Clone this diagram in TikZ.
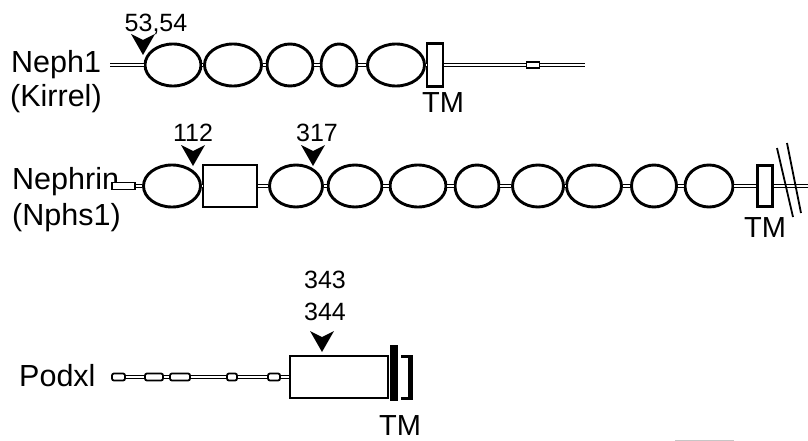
\documentclass[tikz,border=0pt]{standalone}
\usepackage{fontspec}
\setmainfont{Liberation Sans}
\usetikzlibrary{shapes.geometric}
\newcommand{\site}[1]{\fill (#1) -- ++(-12,-21) -- ++(12,6) -- ++(12,-6) -- cycle;}
\begin{document}
\begin{tikzpicture}[x=1pt,y=-1pt,
  dom/.style={draw, ellipse, line width=2.9pt, minimum height=42pt, inner sep=0pt},
  blk/.style={draw, rectangle, line width=2.5pt, inner sep=0pt},
  bead/.style={draw, rectangle, rounded corners=2pt, line width=1.8pt, fill=white, inner sep=0pt, minimum height=7pt},
  link/.style={double, line width=1.8pt, double distance=1.2pt},
  lbl/.style={font=\fontsize{30.5}{33}\selectfont, inner sep=0pt, anchor=base west},
  tm/.style={font=\fontsize{29}{32}\selectfont, inner sep=0pt, anchor=base},
  num/.style={font=\fontsize{25}{27}\selectfont, inner sep=0pt, anchor=base}]
\useasboundingbox (0,0) rectangle (808,441);
%\draw[step=50,gray,very thin] (0,0) grid (808,441);
% Neph1
\node[lbl] (neph) at (11,73) {Neph1};
\node[lbl] (kirrel) at (10,107) {(Kirrel)};
\coordinate (n0) at (110,65);
\node[dom, minimum width=56pt] (a1) at (173,65) {};
\node[dom, minimum width=57pt] (a2) at (233,65) {};
\node[dom, minimum width=46pt] (a3) at (290,65) {};
\node[dom, minimum width=36pt] (a4) at (339,65) {};
\node[dom, minimum width=57pt] (a5) at (396,65) {};
\node[blk, minimum width=16pt, minimum height=43pt] (tm1) at (435,65) {};
\node[bead, minimum width=13pt, minimum height=6pt, rounded corners=0pt] (b1) at (533,65) {};
\coordinate (n1) at (585,65);
\draw[link] (n0) -- (a1.west);
\draw[link] (a1.east) -- (a2.west);
\draw[link] (a2.east) -- (a3.west);
\draw[link] (a3.east) -- (a4.west);
\draw[link] (a4.east) -- (a5.west);
\draw[link] (a5.east) -- (tm1.west);
\draw[link] (tm1.east) -- (b1.west);
\draw[link] (b1.east) -- (n1);
\node[tm] (tma) at (443,113) {TM};
\node[num] (s1) at (156,32) {53,54};
\site{143,55}
% Nephrin
\node[lbl] (nephrin) at (12,189) {Nephrin};
\node[lbl] (nphs) at (12,225) {(Nphs1)};
\node[bead, minimum width=23pt, rounded corners=0pt] (h0) at (123.5,186) {};
\node[dom, minimum width=57pt] (e1) at (172,186) {};
\node[blk, minimum width=54pt, minimum height=42pt] (ig) at (230,186) {};
\node[dom, minimum width=53pt] (e2) at (296,186) {};
\node[dom, minimum width=54pt] (e3) at (355,186) {};
\node[dom, minimum width=56pt] (e4) at (418,186) {};
\node[dom, minimum width=44pt] (e5) at (477,186) {};
\node[dom, minimum width=51pt] (e6) at (538,186) {};
\node[dom, minimum width=55pt] (e7) at (594,186) {};
\node[dom, minimum width=45pt] (e8) at (654,186) {};
\node[dom, minimum width=48pt] (e9) at (709,186) {};
\node[blk, minimum width=15pt, minimum height=41pt] (tm2) at (765,186) {};
\coordinate (h1) at (808,186);
\draw[link] (h0.east) -- (e1.west);
\draw[link] (e1.east) -- (ig.west);
\draw[link] (ig.east) -- (e2.west);
\draw[link] (e2.east) -- (e3.west);
\draw[link] (e3.east) -- (e4.west);
\draw[link] (e4.east) -- (e5.west);
\draw[link] (e5.east) -- (e6.west);
\draw[link] (e6.east) -- (e7.west);
\draw[link] (e7.east) -- (e8.west);
\draw[link] (e8.east) -- (e9.west);
\draw[link] (e9.east) -- (tm2.west);
\draw[link] (tm2.east) -- (h1);
\draw[line width=1.8pt] (777,148) -- (793,217);
\draw[line width=1.8pt] (787,143) -- (801,213);
\node[tm] (tmb) at (765,237) {TM};
\node[num] (s2) at (193,141) {112};
\node[num] (s3) at (317,141) {317};
\site{193,166}
\site{313,166}
% Podxl
\node[lbl] (podxl) at (19,386) {Podxl};
\node[bead, minimum width=13pt] (p1) at (118.5,377) {};
\node[bead, minimum width=18pt] (p2) at (154,377) {};
\node[bead, minimum width=20pt] (p3) at (180,377) {};
\node[bead, minimum width=10pt] (p4) at (232,377) {};
\node[bead, minimum width=12pt] (p5) at (274,377) {};
\node[blk, minimum width=98pt, minimum height=42pt] (ecd) at (339,377) {};
\draw[link] (p1.east) -- (p2.west);
\draw[link] (p2.east) -- (p3.west);
\draw[link] (p3.east) -- (p4.west);
\draw[link] (p4.east) -- (p5.west);
\draw[link] (p5.east) -- (ecd.west);
\draw[line width=8pt] (393.5,345) -- (393.5,401);
\draw[line width=2.2pt] (401,356.5) -- (410,356.5);
\draw[line width=2.2pt] (401,398.5) -- (410,398.5);
\draw[line width=5pt] (410.5,355.4) -- (410.5,399.6);
\node[tm] (tmc) at (400,435) {TM};
\node[num] (s4) at (325,288) {343};
\node[num] (s5) at (325,320) {344};
\site{322,352}
\draw[gray!45, line width=1pt] (675,440.5) -- (734,440.5);
\end{tikzpicture}
\end{document}
